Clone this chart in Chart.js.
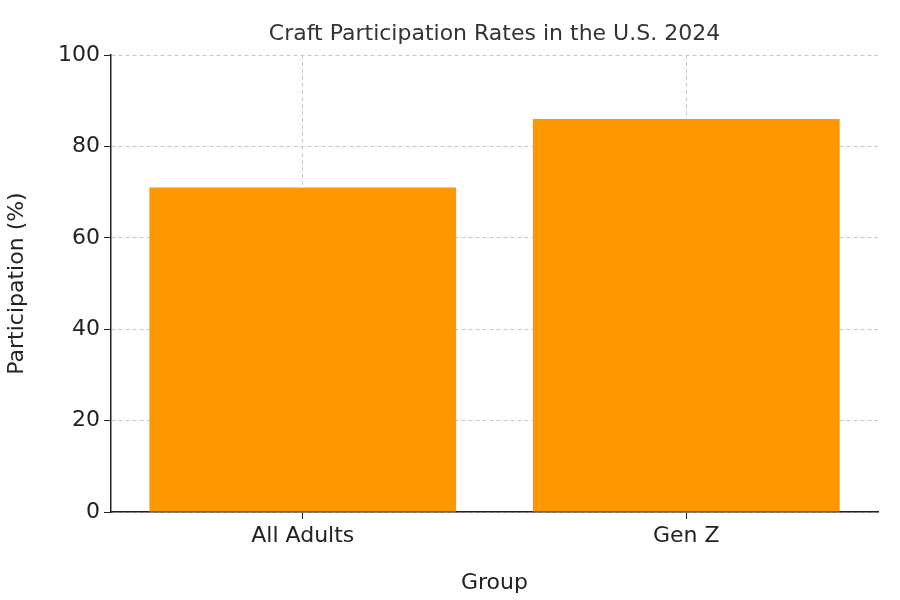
<!DOCTYPE html>
<html><head><meta charset="utf-8">
<script src="https://cdn.jsdelivr.net/npm/chart.js@4"></script>
<style>html,body{margin:0;padding:0;background:#fff}#w{width:900px;height:600px}</style>
</head><body><div id="w"><canvas id="c"></canvas></div>
<script>
const categories = ["All Adults", "Gen Z"];
const participation = [71, 86];
const yTicks = [0, 20, 40, 60, 80, 100];
const titleText = "Craft Participation Rates in the U.S. 2024";
const FONT = "'DejaVu Sans', sans-serif";

const titlePlugin = {
  id: 'tp',
  afterDraw(chart) {
    const ctx = chart.ctx;
    const a = chart.chartArea;
    ctx.save();
    ctx.fillStyle = '#333';
    ctx.font = "22px " + FONT;
    ctx.textAlign = 'center';
    ctx.textBaseline = 'middle';
    ctx.fillText(titleText, (a.left + a.right) / 2, 34);
    ctx.restore();
  }
};

new Chart(document.getElementById('c'), {
  type: 'bar',
  data: { labels: categories, datasets: [{ data: participation, backgroundColor: '#ff9800', barPercentage: 0.8, categoryPercentage: 1.0 }] },
  plugins: [titlePlugin],
  options: {
    responsive: true, maintainAspectRatio: false, animation: false,
    layout: { padding: { top: 55, right: 22, left: 0, bottom: 0 } },
    plugins: { legend: { display: false }, tooltip: { enabled: false } },
    scales: {
      x: {
        z: 1,
        grid: { color: '#c8c8c8', tickColor: '#222', tickLength: 7, offset: false, tickBorderDash: [] },
        border: { color: '#222', width: 1.5, dash: [4, 3] },
        ticks: { color: '#222', font: { size: 22, family: FONT }, padding: 4 },
        title: { display: true, text: 'Group', color: '#222', font: { size: 22, family: FONT }, padding: { top: 6 } },
        afterFit(s) { s.height = 88; }
      },
      y: {
        z: 1, min: 0, max: 100,
        afterBuildTicks(s) { s.ticks = yTicks.map(v => ({ value: v })); },
        grid: { color: '#c8c8c8', tickColor: '#222', tickLength: 7, tickBorderDash: [] },
        border: { color: '#222', width: 1.5, dash: [4, 3] },
        ticks: { color: '#222', font: { size: 22, family: FONT }, padding: 4 },
        title: { display: true, text: 'Participation (%)', color: '#222', font: { size: 22, family: FONT }, padding: { bottom: 8 } },
        afterFit(s) { s.width = 111; }
      }
    }
  }
});
</script></body></html>
